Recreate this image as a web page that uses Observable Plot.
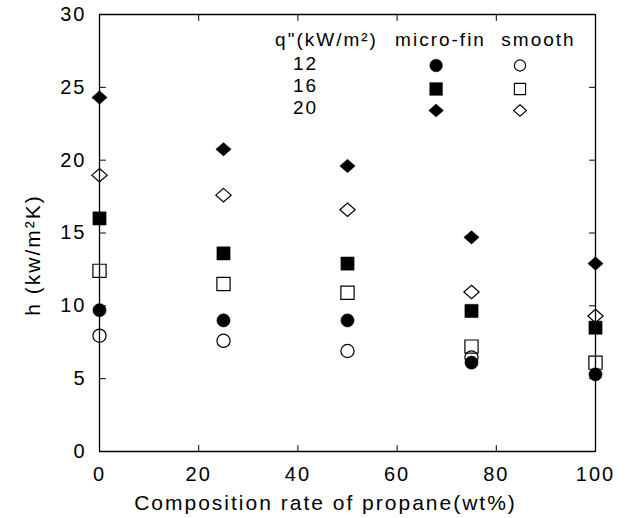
<!DOCTYPE html>
<html>
<head>
<meta charset="utf-8">
<script src="https://cdn.jsdelivr.net/npm/d3@7"></script>
<script src="https://cdn.jsdelivr.net/npm/@observablehq/plot@0.6"></script>
<style>
  html, body { margin: 0; padding: 0; background: white; }
</style>
</head>
<body>
<div id="chart"></div>
<script>
// ---- data ----
const compositions = [0, 25, 50, 75, 100];
const fluxes = [12, 16, 20];
const microFin12 = [9.7, 9.0, 9.0, 6.1, 5.3];
const microFin16 = [16.0, 13.6, 12.9, 9.65, 8.5];
const microFin20 = [24.3, 20.75, 19.6, 14.7, 12.9];
const smooth12 = [7.95, 7.6, 6.9, 6.45, null];
const smooth16 = [12.4, 11.5, 10.9, 7.2, 6.1];
const smooth20 = [18.97, 17.6, 16.6, 10.95, 9.3];
const xDomain = [0, 100];
const yDomain = [0, 30];
const xTicks = [0, 20, 40, 60, 80, 100];
const yTicks = [0, 5, 10, 15, 20, 25, 30];
const xLabel = "Composition rate of propane(wt%)";
const yLabel = "h (kw/m\u00B2K)";
const legendHeader = ["q\"(kW/m\u00B2)", "micro-fin", "smooth"];

// ---- symbols ----
const circleSym = {draw(ctx, size) { const r = Math.sqrt(size / Math.PI); ctx.moveTo(r, 0); ctx.arc(0, 0, r, 0, 2 * Math.PI); ctx.closePath(); }};
const squareSym = {draw(ctx, size) { const r = Math.sqrt(size / Math.PI); ctx.moveTo(-r, -r); ctx.lineTo(r, -r); ctx.lineTo(r, r); ctx.lineTo(-r, r); ctx.closePath(); }};
const diamondSym = {draw(ctx, size) { const r = Math.sqrt(size / Math.PI); const w = 1.16 * r, h = 1.02 * r; ctx.moveTo(0, -h); ctx.lineTo(w, 0); ctx.lineTo(0, h); ctx.lineTo(-w, 0); ctx.closePath(); }};
const symbols = [circleSym, squareSym, diamondSym];
const tickShape = {draw(ctx, l) { ctx.moveTo(0, 0); ctx.lineTo(0, -l); }};

const microSeries = [microFin12, microFin16, microFin20];
const smoothSeries = [smooth12, smooth16, smooth20];
function rows(series) {
  return compositions.map((c, i) => ({x: c, h: series[i]})).filter(d => d.h != null);
}

const R = 6.6;
const TICK = 6;
const marginLeft = 99, marginTop = 14;
const FONT = "Liberation Sans, Arial, sans-serif";
const tickStyle = {length: TICK, anchor: "start", shape: tickShape, stroke: "black", strokeWidth: 1};

const marks = [
  // frame from the scale domains
  Plot.ruleX(xDomain, {stroke: "black", strokeWidth: 1.3}),
  Plot.ruleY(yDomain, {stroke: "black", strokeWidth: 1.3}),
  // inward ticks on all four sides
  Plot.vector(xTicks, {x: d => d, y: yDomain[0], rotate: 0, ...tickStyle}),
  Plot.vector(xTicks, {x: d => d, y: yDomain[1], rotate: 180, ...tickStyle}),
  Plot.vector(yTicks, {y: d => d, x: xDomain[0], rotate: 90, ...tickStyle}),
  Plot.vector(yTicks, {y: d => d, x: xDomain[1], rotate: -90, ...tickStyle}),
  // tick labels
  Plot.axisX(xTicks, {anchor: "bottom", tickSize: 0, tickPadding: 15, fontSize: 20, label: null}),
  Plot.axisY(yTicks, {anchor: "left", tickSize: 0, tickPadding: 13, fontSize: 20, label: null}),
  // axis titles
  Plot.text([xLabel], {frameAnchor: "bottom", textAnchor: "middle", lineAnchor: "middle", dx: -22, dy: 52, fontSize: 21, ariaLabel: "x-label"}),
  Plot.text([yLabel], {frameAnchor: "left", textAnchor: "middle", lineAnchor: "middle", rotate: -90, dx: -66, dy: 22, fontSize: 21, ariaLabel: "y-label"})
];
// open (smooth) first, filled (micro-fin) on top
fluxes.forEach((q, k) => {
  marks.push(Plot.dot(rows(smoothSeries[k]), {x: "x", y: "h", symbol: symbols[k], r: R, fill: "none", stroke: "black", strokeWidth: 1.2}));
});
fluxes.forEach((q, k) => {
  marks.push(Plot.dot(rows(microSeries[k]), {x: "x", y: "h", symbol: symbols[k], r: R, fill: "black", stroke: "black", strokeWidth: 0.5}));
});
// legend
const headerX = [326, 440, 538];
legendHeader.forEach((t, i) => {
  marks.push(Plot.text([t], {frameAnchor: "top-left", textAnchor: "middle", lineAnchor: "middle", dx: headerX[i] - marginLeft, dy: 39.5 - marginTop, fontSize: 19, ariaLabel: "legend-text"}));
});
const rowTextY = [63.5, 85.5, 107];
const rowSymY = [65, 88.5, 110];
fluxes.forEach((q, k) => {
  marks.push(Plot.text([String(q)], {frameAnchor: "top-left", textAnchor: "middle", lineAnchor: "middle", dx: 305 - marginLeft, dy: rowTextY[k] - marginTop, fontSize: 19, ariaLabel: "legend-text"}));
  marks.push(Plot.dot([0], {frameAnchor: "top-left", dx: 435.6 - marginLeft, dy: rowSymY[k] - marginTop, symbol: symbols[k], r: R * 0.96, fill: "black", stroke: "black", strokeWidth: 0.5}));
  marks.push(Plot.dot([0], {frameAnchor: "top-left", dx: 519.5 - marginLeft, dy: rowSymY[k] - marginTop, symbol: symbols[k], r: R * 0.85, fill: "none", stroke: "black", strokeWidth: 1.1}));
});

const chart = Plot.plot({
  width: 629,
  height: 518,
  marginLeft: marginLeft,
  marginRight: 34,
  marginTop: marginTop,
  marginBottom: 67,
  x: {domain: xDomain},
  y: {domain: yDomain},
  marks
});
// font and letter spacing as presentation attributes (no CSS selectors)
chart.setAttribute("font-family", FONT);
const spacing = {"x-label": "3.3px", "y-label": "3.3px", "legend-text": "1.6px"};
chart.querySelectorAll("text").forEach(t => {
  const g = t.closest("g[aria-label]");
  const key = g ? g.getAttribute("aria-label") : "";
  t.setAttribute("letter-spacing", spacing[key] || "2px");
});
document.getElementById("chart").appendChild(chart);
</script>
</body>
</html>
